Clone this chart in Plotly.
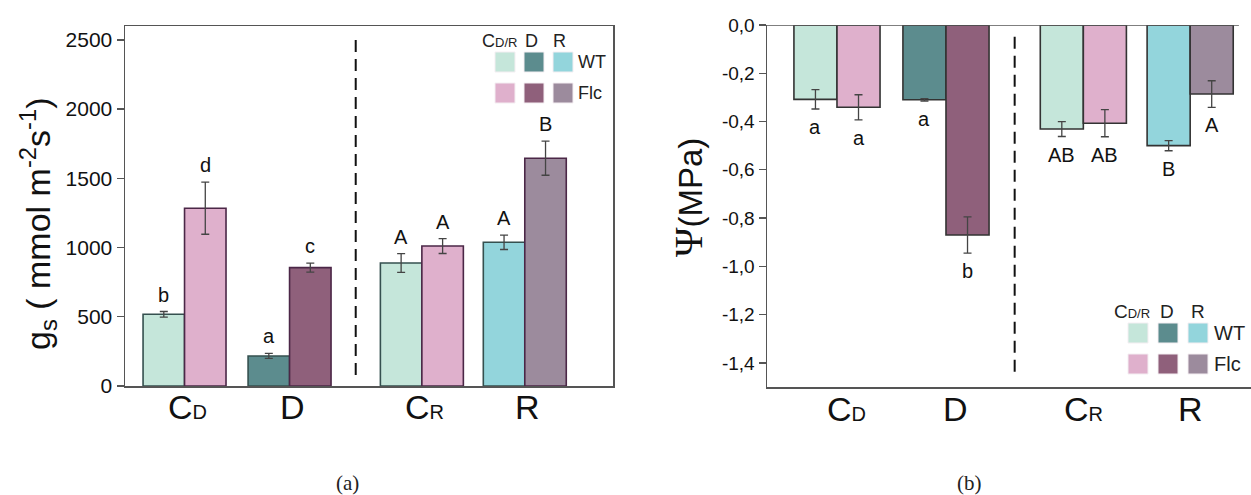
import plotly.graph_objects as go

W, H = 1251, 495

# ---------------- data ----------------
categories = ["C_D", "D", "C_R", "R"]
cat_labels = ["C<span style='font-size:20px'>D</span>", "D",
              "C<span style='font-size:20px'>R</span>", "R"]

gs_wt = [518, 217, 888, 1038]
gs_wt_err = [20, 18, 68, 52]
gs_flc = [1284, 855, 1011, 1645]
gs_flc_err = [188, 32, 54, 123]
gs_wt_letters = ["b", "a", "A", "A"]
gs_flc_letters = ["d", "c", "A", "B"]

psi_wt = [-0.308, -0.310, -0.431, -0.500]
psi_wt_err = [0.040, 0.005, 0.031, 0.021]
psi_flc = [-0.341, -0.870, -0.407, -0.286]
psi_flc_err = [0.052, 0.075, 0.056, 0.055]
psi_wt_letters = ["a", "a", "AB", "B"]
psi_flc_letters = ["a", "b", "AB", "A"]

gs_ticks = [0, 500, 1000, 1500, 2000, 2500]
psi_ticks = [0, -0.2, -0.4, -0.6, -0.8, -1.0, -1.2, -1.4]
psi_ticktext = ["0,0", "-0,2", "-0,4", "-0,6", "-0,8", "-1,0", "-1,2", "-1,4"]

legend_cols = ["C<span style='font-size:13px'>D/R</span>", "D", "R"]
legend_rows = ["WT", "Flc"]

# ---------------- style ----------------
MINT, TEAL, CYAN = "#c5e6da", "#5c8c8e", "#93d5dc"
PINK, PURPLE, GREY = "#dfb0cc", "#8f607b", "#9c8b9d"
wt_colors = [MINT, TEAL, MINT, CYAN]
flc_colors = [PINK, PURPLE, PINK, GREY]

group_pos = [0, 1, 2.26, 3.24]
bar_w = 0.395
half = bar_w / 2
sep_x = (group_pos[1] + group_pos[2]) / 2

FONT = "Liberation Sans, Arial, sans-serif"
AX = "#555555"


def px(x):
    return x / W


def py(y):
    return 1 - y / H


fig = go.Figure()


def add_panel(xa, ya, wt, wte, flc, flce, wt_line, flc_line):
    fig.add_trace(go.Bar(
        x=[p - half for p in group_pos], y=wt, width=bar_w,
        marker=dict(color=wt_colors, line=dict(color=wt_line, width=1.6)),
        error_y=dict(type="data", array=wte, color="#444444", thickness=1.3, width=4),
        xaxis=xa, yaxis=ya, showlegend=False, name="WT", hoverinfo="skip"))
    fig.add_trace(go.Bar(
        x=[p + half for p in group_pos], y=flc, width=bar_w,
        marker=dict(color=flc_colors, line=dict(color=flc_line, width=1.6)),
        error_y=dict(type="data", array=flce, color="#444444", thickness=1.3, width=4),
        xaxis=xa, yaxis=ya, showlegend=False, name="Flc", hoverinfo="skip"))


add_panel("x", "y", gs_wt, gs_wt_err, gs_flc, gs_flc_err, "#35504f", "#4b2747")
add_panel("x2", "y2", psi_wt, psi_wt_err, psi_flc, psi_flc_err, "#333333", "#333333")

annotations = []
letter_font = dict(family=FONT, size=20, color="#111111")

for i, p in enumerate(group_pos):
    annotations.append(dict(x=p - half, y=gs_wt[i] + gs_wt_err[i], xref="x", yref="y",
                            text=gs_wt_letters[i], showarrow=False, xanchor="center",
                            yanchor="middle", yshift=17, font=letter_font))
    annotations.append(dict(x=p + half, y=gs_flc[i] + gs_flc_err[i], xref="x", yref="y",
                            text=gs_flc_letters[i], showarrow=False, xanchor="center",
                            yanchor="middle", yshift=17, font=letter_font))
    annotations.append(dict(x=p - half, y=psi_wt[i] - psi_wt_err[i], xref="x2", yref="y2",
                            text=psi_wt_letters[i], showarrow=False, xanchor="center",
                            yanchor="middle", yshift=-18, font=letter_font))
    annotations.append(dict(x=p + half, y=psi_flc[i] - psi_flc_err[i], xref="x2", yref="y2",
                            text=psi_flc_letters[i], showarrow=False, xanchor="center",
                            yanchor="middle", yshift=-18, font=letter_font))

# category labels under both panels
catfont = dict(family=FONT, size=34, color="#111111")
for i, p in enumerate(group_pos):
    annotations.append(dict(x=p, y=py(407), xref="x", yref="paper", text=cat_labels[i],
                            showarrow=False, xanchor="center", yanchor="middle",
                            xshift=3, font=catfont))
    annotations.append(dict(x=p, y=py(409), xref="x2", yref="paper", text=cat_labels[i],
                            showarrow=False, xanchor="center", yanchor="middle",
                            xshift=10 if i < 2 else 0, font=catfont))

# axis titles
annotations.append(dict(x=px(38), y=py(224), xref="paper", yref="paper",
                        text="g<sub>s</sub> ( mmol m<sup>-2</sup>s<sup>-1</sup>)",
                        textangle=-90, showarrow=False, xanchor="center", yanchor="middle",
                        font=dict(family=FONT, size=34, color="#111111")))
annotations.append(dict(x=px(688), y=py(198), xref="paper", yref="paper",
                        text="<span style='font-family:Liberation Serif;font-size:40px'>Ψ</span>(MPa)",
                        textangle=-90, showarrow=False, xanchor="center", yanchor="middle",
                        font=dict(family=FONT, size=33, color="#111111")))

# captions
for cx, t in [(347, "(a)"), (969, "(b)")]:
    annotations.append(dict(x=px(cx), y=py(483), xref="paper", yref="paper", text=t,
                            showarrow=False, xanchor="center", yanchor="middle",
                            font=dict(family="Liberation Serif, serif", size=21, color="#222222")))

shapes = []
shapes.append(dict(type="line", xref="x", yref="y", x0=sep_x, x1=sep_x, y0=80, y1=2530,
                   line=dict(color="#111111", width=2, dash="12px,7px")))
shapes.append(dict(type="line", xref="x2", yref="y2", x0=sep_x, x1=sep_x, y0=-1.437, y1=-0.03,
                   line=dict(color="#111111", width=2, dash="12px,7px")))
shapes.append(dict(type="line", xref="x2 domain", yref="y2", x0=0, x1=0.975, y0=0, y1=0,
                   line=dict(color=AX, width=1.5)))


def add_legend(col_x, col_y, sq_x, row_y, label_x, size_h, size_l):
    for cx, t in zip(col_x, legend_cols):
        annotations.append(dict(x=px(cx), y=py(col_y), xref="paper", yref="paper", text=t,
                                showarrow=False, xanchor="center", yanchor="middle",
                                font=dict(family=FONT, size=size_h, color="#222222")))
    row_colors = [[wt_colors[0], wt_colors[1], wt_colors[3]],
                  [flc_colors[0], flc_colors[1], flc_colors[3]]]
    for r, (y0, y1) in enumerate(row_y):
        for c, (x0, x1) in enumerate(sq_x):
            shapes.append(dict(type="rect", xref="paper", yref="paper",
                               x0=px(x0), x1=px(x1), y0=py(y1), y1=py(y0),
                               fillcolor=row_colors[r][c], line=dict(color="#f4eef2", width=1)))
        annotations.append(dict(x=px(label_x), y=py((y0 + y1) / 2), xref="paper", yref="paper",
                                text=legend_rows[r], showarrow=False, xanchor="left",
                                yanchor="middle",
                                font=dict(family=FONT, size=size_l, color="#222222")))


add_legend([499, 531, 559], 41, [(495, 515), (524, 544), (553, 573)],
           [(52, 72), (83, 103)], 576, 18, 18)
add_legend([1132, 1167, 1198], 311, [(1128, 1148), (1158, 1178), (1188, 1208)],
           [(323, 343), (354, 374)], 1212, 19, 20)

tickfont = dict(family=FONT, size=21, color="#111111")

fig.update_layout(
    width=W, height=H,
    margin=dict(l=0, r=0, t=0, b=0, autoexpand=False),
    paper_bgcolor="white", plot_bgcolor="white",
    barmode="overlay",
    showlegend=False,
    xaxis=dict(domain=[px(125), px(613)], range=[-0.567, 4.08],
               showline=True, linecolor=AX, linewidth=1.5, mirror=True,
               showgrid=False, zeroline=False, ticks="", showticklabels=False,
               automargin=False, anchor="y"),
    yaxis=dict(domain=[py(386), py(26)], range=[0, 2600],
               showline=True, linecolor=AX, linewidth=1.5, mirror=True,
               showgrid=False, zeroline=False, ticks="outside", ticklen=7,
               tickcolor=AX, tickwidth=1.3, tickvals=gs_ticks, tickfont=tickfont,
               automargin=False, anchor="x"),
    xaxis2=dict(domain=[px(767), 1.0], range=[-0.642, 3.798],
                showline=True, linecolor=AX, linewidth=1.5,
                showgrid=False, zeroline=False, ticks="", showticklabels=False,
                automargin=False, anchor="y2"),
    yaxis2=dict(domain=[py(387), py(25)], range=[-1.5, 0],
                showline=True, linecolor=AX, linewidth=1.5,
                showgrid=False, zeroline=False, ticks="outside", ticklen=7,
                tickcolor=AX, tickwidth=1.3, tickvals=psi_ticks, ticktext=psi_ticktext,
                tickfont=dict(family=FONT, size=19, color="#111111"),
                automargin=False, anchor="x2"),
    annotations=annotations,
    shapes=shapes,
)

fig.write_html(
    "out.html",
    config={"displayModeBar": False, "staticPlot": True},
    post_script="document.body.style.margin='0';document.body.style.overflow='hidden';",
)
